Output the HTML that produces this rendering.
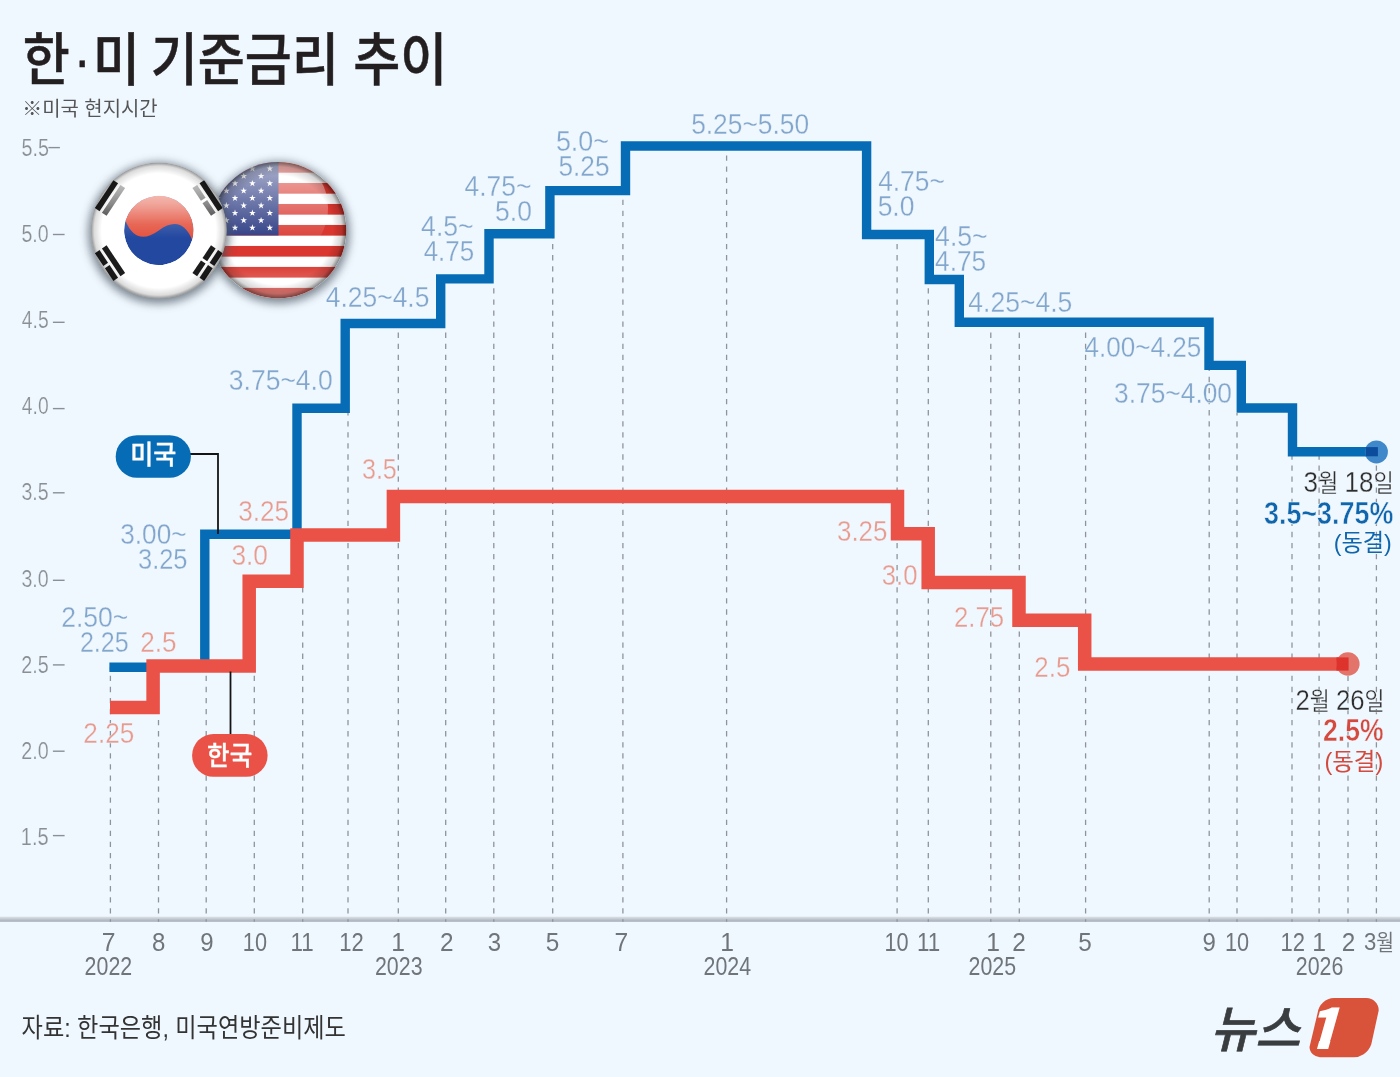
<!DOCTYPE html>
<html lang="ko"><head><meta charset="utf-8"><title>한·미 기준금리 추이</title>
<style>
html,body{margin:0;padding:0;background:#f0f8ff;}
body{width:1400px;height:1077px;overflow:hidden;}
svg{display:block;font-family:"Liberation Sans","Noto Sans CJK KR",sans-serif;}
.lb,.lr{stroke:#f0f8ff;stroke-width:.3px;}
.yl{stroke:#f0f8ff;stroke-width:.2px;}
.dt{stroke:#f0f8ff;stroke-width:.3px;}
.bb{stroke:#f0f8ff;stroke-width:.5px;}
.tt{stroke:#231f20;stroke-width:.5px;}
.cw{stroke:#fff;stroke-width:.3px;}
</style></head><body>
<svg width="1400" height="1077" viewBox="0 0 1400 1077">
<defs>
<linearGradient id="axg" x1="0" y1="0" x2="0" y2="1"><stop offset="0" stop-color="#dfe5ea"/><stop offset=".55" stop-color="#bcc3cb"/><stop offset="1" stop-color="#a7aeb8"/></linearGradient>
<filter id="blur4" x="-30%" y="-30%" width="160%" height="160%"><feGaussianBlur stdDeviation="4.6"/></filter>
<clipPath id="kclip"><circle cx="158.8" cy="230.6" r="68"/></clipPath>
<clipPath id="uclip"><circle cx="278.2" cy="230.2" r="68.2"/></clipPath>
<clipPath id="tclip"><circle cx="0" cy="0" r="34.7"/></clipPath>
<radialGradient id="rim" cx=".5" cy=".5" r=".5"><stop offset="0" stop-color="#000" stop-opacity="0"/><stop offset=".8" stop-color="#000" stop-opacity="0"/><stop offset=".93" stop-color="#000" stop-opacity=".16"/><stop offset="1" stop-color="#000" stop-opacity=".5"/></radialGradient>
<linearGradient id="ugl" gradientUnits="userSpaceOnUse" x1="0" y1="152" x2="0" y2="246"><stop offset="0" stop-color="#fff" stop-opacity=".7"/><stop offset=".6" stop-color="#fff" stop-opacity=".28"/><stop offset="1" stop-color="#fff" stop-opacity="0"/></linearGradient>
<linearGradient id="ubot" gradientUnits="userSpaceOnUse" x1="0" y1="262" x2="0" y2="299"><stop offset="0" stop-color="#fff" stop-opacity="0"/><stop offset="1" stop-color="#fff" stop-opacity=".4"/></linearGradient>
<linearGradient id="kgl" gradientUnits="userSpaceOnUse" x1="0" y1="170" x2="0" y2="238"><stop offset="0" stop-color="#fff" stop-opacity=".88"/><stop offset=".5" stop-color="#fff" stop-opacity=".48"/><stop offset=".8" stop-color="#fff" stop-opacity=".12"/><stop offset="1" stop-color="#fff" stop-opacity="0"/></linearGradient>
<radialGradient id="rimk" cx=".5" cy=".5" r=".5"><stop offset="0" stop-color="#000" stop-opacity="0"/><stop offset=".84" stop-color="#000" stop-opacity="0"/><stop offset=".95" stop-color="#000" stop-opacity=".14"/><stop offset="1" stop-color="#000" stop-opacity=".42"/></radialGradient>
</defs>
<rect width="1400" height="1077" fill="#f0f8ff"/>

<!-- axis -->
<rect x="0" y="916.6" width="1400" height="5.2" fill="url(#axg)"/>
<g stroke="#8e949a" stroke-width="1.3" stroke-dasharray="5.3 5.77" stroke-dashoffset="2.8" fill="none"><path d="M110.4 921.8V667"/><path d="M158.5 921.8V716"/><path d="M206.2 921.8V668"/><path d="M254.3 921.8V672"/><path d="M302.7 921.8V588"/><path d="M348 921.8V412"/><path d="M398.3 921.8V328"/><path d="M445.7 921.8V328"/><path d="M493.8 921.8V283"/><path d="M552.7 921.8V238"/><path d="M622.9 921.8V195"/><path d="M726.6 921.8V150"/><path d="M897.1 921.8V239"/><path d="M928.3 921.8V284"/><path d="M990.8 921.8V326"/><path d="M1019.3 921.8V326"/><path d="M1085.6 921.8V326"/><path d="M1209.2 921.8V370"/><path d="M1237 921.8V413"/><path d="M1292 921.8V456"/><path d="M1319.1 921.8V456"/><path d="M1348 921.8V676"/><path d="M1376.4 921.8V463"/></g>
<g stroke="#8a9096" stroke-width="1.4" fill="none"><path d="M48.4 147.6H59.9"/><path d="M52.9 234.5H64.6"/><path d="M52.9 322.3H64.6"/><path d="M52.9 408.6H64.6"/><path d="M52.9 492.8H64.6"/><path d="M52.9 580.3H64.6"/><path d="M52.9 664.9H64.6"/><path d="M52.9 751.2H64.6"/><path d="M52.9 835.6H64.6"/></g>

<!-- flags -->
<g>
<circle cx="278.7" cy="232.7" r="70.7" fill="#46525e" opacity=".7" filter="url(#blur4)"/>
<g clip-path="url(#uclip)">
<rect x="210" y="162" width="136.4" height="136.4" fill="#fff"/>
<rect x="210" y="162" width="136.4" height="10.69" fill="#d9372f"/><rect x="210" y="182.98" width="136.4" height="10.69" fill="#d9372f"/><rect x="210" y="203.97" width="136.4" height="10.69" fill="#d9372f"/><rect x="210" y="224.95" width="136.4" height="10.69" fill="#d9372f"/><rect x="210" y="245.94" width="136.4" height="10.69" fill="#d9372f"/><rect x="210" y="266.92" width="136.4" height="10.69" fill="#d9372f"/><rect x="210" y="287.91" width="136.4" height="10.69" fill="#d9372f"/>
<rect x="210" y="162" width="68.5" height="73.45" fill="#26357f"/>
<g fill="#fff"><polygon points="269.8,224.3 270.6,226.7 273.1,226.7 271.1,228.2 271.9,230.6 269.8,229.2 267.7,230.6 268.5,228.2 266.5,226.7 269.0,226.7"/><polygon points="252.4,224.3 253.2,226.7 255.7,226.7 253.7,228.2 254.5,230.6 252.4,229.2 250.3,230.6 251.1,228.2 249.1,226.7 251.6,226.7"/><polygon points="235.0,224.3 235.8,226.7 238.3,226.7 236.3,228.2 237.1,230.6 235.0,229.2 232.9,230.6 233.7,228.2 231.7,226.7 234.2,226.7"/><polygon points="217.6,224.3 218.4,226.7 220.9,226.7 218.9,228.2 219.7,230.6 217.6,229.2 215.5,230.6 216.3,228.2 214.3,226.7 216.8,226.7"/><polygon points="200.2,224.3 201.0,226.7 203.5,226.7 201.5,228.2 202.3,230.6 200.2,229.2 198.1,230.6 198.9,228.2 196.9,226.7 199.4,226.7"/><polygon points="182.8,224.3 183.6,226.7 186.1,226.7 184.1,228.2 184.9,230.6 182.8,229.2 180.7,230.6 181.5,228.2 179.5,226.7 182.0,226.7"/><polygon points="261.1,216.9 261.9,219.3 264.4,219.3 262.4,220.8 263.2,223.2 261.1,221.8 259.0,223.2 259.8,220.8 257.8,219.3 260.3,219.3"/><polygon points="243.7,216.9 244.5,219.3 247.0,219.3 245.0,220.8 245.8,223.2 243.7,221.8 241.6,223.2 242.4,220.8 240.4,219.3 242.9,219.3"/><polygon points="226.3,216.9 227.1,219.3 229.6,219.3 227.6,220.8 228.4,223.2 226.3,221.8 224.2,223.2 225.0,220.8 223.0,219.3 225.5,219.3"/><polygon points="208.9,216.9 209.7,219.3 212.2,219.3 210.2,220.8 211.0,223.2 208.9,221.8 206.8,223.2 207.6,220.8 205.6,219.3 208.1,219.3"/><polygon points="191.5,216.9 192.3,219.3 194.8,219.3 192.8,220.8 193.6,223.2 191.5,221.8 189.4,223.2 190.2,220.8 188.2,219.3 190.7,219.3"/><polygon points="269.8,209.5 270.6,211.9 273.1,211.9 271.1,213.4 271.9,215.8 269.8,214.4 267.7,215.8 268.5,213.4 266.5,211.9 269.0,211.9"/><polygon points="252.4,209.5 253.2,211.9 255.7,211.9 253.7,213.4 254.5,215.8 252.4,214.4 250.3,215.8 251.1,213.4 249.1,211.9 251.6,211.9"/><polygon points="235.0,209.5 235.8,211.9 238.3,211.9 236.3,213.4 237.1,215.8 235.0,214.4 232.9,215.8 233.7,213.4 231.7,211.9 234.2,211.9"/><polygon points="217.6,209.5 218.4,211.9 220.9,211.9 218.9,213.4 219.7,215.8 217.6,214.4 215.5,215.8 216.3,213.4 214.3,211.9 216.8,211.9"/><polygon points="200.2,209.5 201.0,211.9 203.5,211.9 201.5,213.4 202.3,215.8 200.2,214.4 198.1,215.8 198.9,213.4 196.9,211.9 199.4,211.9"/><polygon points="182.8,209.5 183.6,211.9 186.1,211.9 184.1,213.4 184.9,215.8 182.8,214.4 180.7,215.8 181.5,213.4 179.5,211.9 182.0,211.9"/><polygon points="261.1,202.1 261.9,204.5 264.4,204.5 262.4,206.0 263.2,208.4 261.1,207.0 259.0,208.4 259.8,206.0 257.8,204.5 260.3,204.5"/><polygon points="243.7,202.1 244.5,204.5 247.0,204.5 245.0,206.0 245.8,208.4 243.7,207.0 241.6,208.4 242.4,206.0 240.4,204.5 242.9,204.5"/><polygon points="226.3,202.1 227.1,204.5 229.6,204.5 227.6,206.0 228.4,208.4 226.3,207.0 224.2,208.4 225.0,206.0 223.0,204.5 225.5,204.5"/><polygon points="208.9,202.1 209.7,204.5 212.2,204.5 210.2,206.0 211.0,208.4 208.9,207.0 206.8,208.4 207.6,206.0 205.6,204.5 208.1,204.5"/><polygon points="191.5,202.1 192.3,204.5 194.8,204.5 192.8,206.0 193.6,208.4 191.5,207.0 189.4,208.4 190.2,206.0 188.2,204.5 190.7,204.5"/><polygon points="269.8,194.7 270.6,197.1 273.1,197.1 271.1,198.6 271.9,201.0 269.8,199.6 267.7,201.0 268.5,198.6 266.5,197.1 269.0,197.1"/><polygon points="252.4,194.7 253.2,197.1 255.7,197.1 253.7,198.6 254.5,201.0 252.4,199.6 250.3,201.0 251.1,198.6 249.1,197.1 251.6,197.1"/><polygon points="235.0,194.7 235.8,197.1 238.3,197.1 236.3,198.6 237.1,201.0 235.0,199.6 232.9,201.0 233.7,198.6 231.7,197.1 234.2,197.1"/><polygon points="217.6,194.7 218.4,197.1 220.9,197.1 218.9,198.6 219.7,201.0 217.6,199.6 215.5,201.0 216.3,198.6 214.3,197.1 216.8,197.1"/><polygon points="200.2,194.7 201.0,197.1 203.5,197.1 201.5,198.6 202.3,201.0 200.2,199.6 198.1,201.0 198.9,198.6 196.9,197.1 199.4,197.1"/><polygon points="182.8,194.7 183.6,197.1 186.1,197.1 184.1,198.6 184.9,201.0 182.8,199.6 180.7,201.0 181.5,198.6 179.5,197.1 182.0,197.1"/><polygon points="261.1,187.3 261.9,189.7 264.4,189.7 262.4,191.2 263.2,193.6 261.1,192.2 259.0,193.6 259.8,191.2 257.8,189.7 260.3,189.7"/><polygon points="243.7,187.3 244.5,189.7 247.0,189.7 245.0,191.2 245.8,193.6 243.7,192.2 241.6,193.6 242.4,191.2 240.4,189.7 242.9,189.7"/><polygon points="226.3,187.3 227.1,189.7 229.6,189.7 227.6,191.2 228.4,193.6 226.3,192.2 224.2,193.6 225.0,191.2 223.0,189.7 225.5,189.7"/><polygon points="208.9,187.3 209.7,189.7 212.2,189.7 210.2,191.2 211.0,193.6 208.9,192.2 206.8,193.6 207.6,191.2 205.6,189.7 208.1,189.7"/><polygon points="191.5,187.3 192.3,189.7 194.8,189.7 192.8,191.2 193.6,193.6 191.5,192.2 189.4,193.6 190.2,191.2 188.2,189.7 190.7,189.7"/><polygon points="269.8,179.9 270.6,182.3 273.1,182.3 271.1,183.8 271.9,186.2 269.8,184.8 267.7,186.2 268.5,183.8 266.5,182.3 269.0,182.3"/><polygon points="252.4,179.9 253.2,182.3 255.7,182.3 253.7,183.8 254.5,186.2 252.4,184.8 250.3,186.2 251.1,183.8 249.1,182.3 251.6,182.3"/><polygon points="235.0,179.9 235.8,182.3 238.3,182.3 236.3,183.8 237.1,186.2 235.0,184.8 232.9,186.2 233.7,183.8 231.7,182.3 234.2,182.3"/><polygon points="217.6,179.9 218.4,182.3 220.9,182.3 218.9,183.8 219.7,186.2 217.6,184.8 215.5,186.2 216.3,183.8 214.3,182.3 216.8,182.3"/><polygon points="200.2,179.9 201.0,182.3 203.5,182.3 201.5,183.8 202.3,186.2 200.2,184.8 198.1,186.2 198.9,183.8 196.9,182.3 199.4,182.3"/><polygon points="182.8,179.9 183.6,182.3 186.1,182.3 184.1,183.8 184.9,186.2 182.8,184.8 180.7,186.2 181.5,183.8 179.5,182.3 182.0,182.3"/><polygon points="261.1,172.5 261.9,174.9 264.4,174.9 262.4,176.4 263.2,178.8 261.1,177.4 259.0,178.8 259.8,176.4 257.8,174.9 260.3,174.9"/><polygon points="243.7,172.5 244.5,174.9 247.0,174.9 245.0,176.4 245.8,178.8 243.7,177.4 241.6,178.8 242.4,176.4 240.4,174.9 242.9,174.9"/><polygon points="226.3,172.5 227.1,174.9 229.6,174.9 227.6,176.4 228.4,178.8 226.3,177.4 224.2,178.8 225.0,176.4 223.0,174.9 225.5,174.9"/><polygon points="208.9,172.5 209.7,174.9 212.2,174.9 210.2,176.4 211.0,178.8 208.9,177.4 206.8,178.8 207.6,176.4 205.6,174.9 208.1,174.9"/><polygon points="191.5,172.5 192.3,174.9 194.8,174.9 192.8,176.4 193.6,178.8 191.5,177.4 189.4,178.8 190.2,176.4 188.2,174.9 190.7,174.9"/><polygon points="269.8,165.1 270.6,167.5 273.1,167.5 271.1,169.0 271.9,171.4 269.8,170.0 267.7,171.4 268.5,169.0 266.5,167.5 269.0,167.5"/><polygon points="252.4,165.1 253.2,167.5 255.7,167.5 253.7,169.0 254.5,171.4 252.4,170.0 250.3,171.4 251.1,169.0 249.1,167.5 251.6,167.5"/><polygon points="235.0,165.1 235.8,167.5 238.3,167.5 236.3,169.0 237.1,171.4 235.0,170.0 232.9,171.4 233.7,169.0 231.7,167.5 234.2,167.5"/><polygon points="217.6,165.1 218.4,167.5 220.9,167.5 218.9,169.0 219.7,171.4 217.6,170.0 215.5,171.4 216.3,169.0 214.3,167.5 216.8,167.5"/><polygon points="200.2,165.1 201.0,167.5 203.5,167.5 201.5,169.0 202.3,171.4 200.2,170.0 198.1,171.4 198.9,169.0 196.9,167.5 199.4,167.5"/><polygon points="182.8,165.1 183.6,167.5 186.1,167.5 184.1,169.0 184.9,171.4 182.8,170.0 180.7,171.4 181.5,169.0 179.5,167.5 182.0,167.5"/></g>
<circle cx="272" cy="208" r="56" fill="url(#ugl)"/>
<rect x="210" y="262" width="136.4" height="40" fill="url(#ubot)"/>
<circle cx="278.2" cy="230.2" r="68.2" fill="url(#rim)"/>
</g>
<circle cx="158.8" cy="233.1" r="70.5" fill="#46525e" opacity=".7" filter="url(#blur4)"/>
<g clip-path="url(#kclip)">
<circle cx="158.8" cy="230.6" r="68" fill="#fff"/>
<g transform="translate(158.8 230.6)" fill="#1c1c1c"><g transform="rotate(213.7)"><rect x="51.6" y="-16.7" width="5.6" height="33.4"/><rect x="60.1" y="-16.7" width="5.6" height="33.4"/><rect x="68.6" y="-16.7" width="5.6" height="33.4"/></g><g transform="rotate(-33.7)"><rect x="51.6" y="-16.7" width="5.6" height="15.3"/><rect x="51.6" y="1.4" width="5.6" height="15.3"/><rect x="60.1" y="-16.7" width="5.6" height="33.4"/><rect x="68.6" y="-16.7" width="5.6" height="15.3"/><rect x="68.6" y="1.4" width="5.6" height="15.3"/></g><g transform="rotate(146.3)"><rect x="51.6" y="-16.7" width="5.6" height="33.4"/><rect x="60.1" y="-16.7" width="5.6" height="15.3"/><rect x="60.1" y="1.4" width="5.6" height="15.3"/><rect x="68.6" y="-16.7" width="5.6" height="33.4"/></g><g transform="rotate(33.7)"><rect x="51.6" y="-16.7" width="5.6" height="15.3"/><rect x="51.6" y="1.4" width="5.6" height="15.3"/><rect x="60.1" y="-16.7" width="5.6" height="15.3"/><rect x="60.1" y="1.4" width="5.6" height="15.3"/><rect x="68.6" y="-16.7" width="5.6" height="15.3"/><rect x="68.6" y="1.4" width="5.6" height="15.3"/></g></g>
<g transform="translate(158.8 230.4) rotate(16)">
<g clip-path="url(#tclip)">
<circle r="34.7" fill="#2348a0"/>
<path d="M-34.7 0A34.7 34.7 0 0 1 34.7 0Q17.35 -22 0 0T-34.7 0Z" fill="#e4533f"/>
</g></g>
<circle cx="158.8" cy="230.6" r="60" fill="url(#kgl)"/>
<circle cx="158.8" cy="230.6" r="68" fill="url(#rimk)"/>
</g>
</g>

<!-- data lines -->
<path d="M109.4 667.3H204.8V534.2H297V408.2H345.2V323.5H440.7V278.9H489V233.7H549.9V190.6H625.5V146H866.6V234.5H929.3V279.5H959.3V322.2H1209V365.4H1241.3V408H1292.5V451.7H1377.9" fill="none" stroke="#066cb6" stroke-width="9.4" stroke-linejoin="miter"/>
<path d="M110 707.4H153.1V666H249.2V581.2H297V535H393.4V496.4H897.5V533.7H928.2V582.5H1019V620.2H1084.7V664H1348.6" fill="none" stroke="#ea5247" stroke-width="13.5" stroke-linejoin="miter"/>
<circle cx="1376.4" cy="451.9" r="11.5" fill="#3f88c9"/>
<rect x="1365.6" y="447.1" width="12.3" height="9.2" fill="#0c4c9d"/>
<circle cx="1347.9" cy="664" r="11.7" fill="#e2746c"/>
<rect x="1336.4" y="657.4" width="12.2" height="13.2" fill="#de332c"/>

<!-- callouts -->
<path d="M190 454H218V534" fill="none" stroke="#141414" stroke-width="1.8"/>
<path d="M230.5 671.5V736" fill="none" stroke="#141414" stroke-width="1.8"/>
<rect x="115.7" y="435.2" width="75.2" height="42.6" rx="21.3" fill="#066cb6"/>
<rect x="192.1" y="734.1" width="75.5" height="42.7" rx="21.3" fill="#ea5247"/>

<!-- logo -->
<g id="logo">
<path d="M1334 998.1H1366.5A12.2 12.2 0 0 1 1378.7 1010.4L1371.3 1044.3A19 19 0 0 1 1351.6 1057.2H1320.4A10.5 10.5 0 0 1 1309.5 1047L1317.6 1013.1A17 17 0 0 1 1334 998.1Z" fill="#d9533a"/>
<text transform="translate(1210.2 1047.4) skewX(-14) scale(0.985 1)" font-size="49.7" font-weight="500" fill="#3a3d3f" stroke="#3a3d3f" stroke-width=".7">뉴스</text>
<clipPath id="oneclip"><path d="M0 -45H30V-9.6H23.2V1H12.6V-9.6H0Z"/></clipPath>
<text transform="translate(1303.6 1049) skewX(-15.6) scale(1.06 1)" clip-path="url(#oneclip)" font-size="55.8" font-weight="900" fill="#fff" font-family="&quot;Noto Sans CJK KR&quot;,&quot;Liberation Sans&quot;,sans-serif">1</text>
</g>

<!-- texts -->
<text transform="translate(61.17 627.35) scale(0.887 1)" font-size="29.93" fill="#82a6cc" class="lb">2.50~</text>
<text transform="translate(79.95 652) scale(0.837 1)" font-size="29.93" fill="#82a6cc" class="lb">2.25</text>
<text transform="translate(120.3 544.05) scale(0.874 1)" font-size="29.93" fill="#82a6cc" class="lb">3.00~</text>
<text transform="translate(137.98 569.2) scale(0.851 1)" font-size="29.93" fill="#82a6cc" class="lb">3.25</text>
<text transform="translate(228.79 390.2) scale(0.886 1)" font-size="29.93" fill="#82a6cc" class="lb">3.75~4.0</text>
<text transform="translate(325.82 306.7) scale(0.883 1)" font-size="29.93" fill="#82a6cc" class="lb">4.25~4.5</text>
<text transform="translate(421.12 235.7) scale(0.877 1)" font-size="30.36" fill="#82a6cc" class="lb">4.5~</text>
<text transform="translate(423.63 260.7) scale(0.856 1)" font-size="30.36" fill="#82a6cc" class="lb">4.75</text>
<text transform="translate(464.47 196.35) scale(0.871 1)" font-size="30.36" fill="#82a6cc" class="lb">4.75~</text>
<text transform="translate(495.09 221.35) scale(0.884 1)" font-size="29.93" fill="#82a6cc" class="lb">5.0</text>
<text transform="translate(555.92 151.35) scale(0.899 1)" font-size="29.93" fill="#82a6cc" class="lb">5.0~</text>
<text transform="translate(558.45 176.35) scale(0.877 1)" font-size="29.93" fill="#82a6cc" class="lb">5.25</text>
<text transform="translate(691.15 134.05) scale(0.880 1)" font-size="29.93" fill="#82a6cc" class="lb">5.25~5.50</text>
<text transform="translate(878.17 191.35) scale(0.867 1)" font-size="30.36" fill="#82a6cc" class="lb">4.75~</text>
<text transform="translate(877.64 216.35) scale(0.884 1)" font-size="29.93" fill="#82a6cc" class="lb">5.0</text>
<text transform="translate(935.12 246.35) scale(0.877 1)" font-size="30.36" fill="#82a6cc" class="lb">4.5~</text>
<text transform="translate(935.12 271.05) scale(0.865 1)" font-size="30.36" fill="#82a6cc" class="lb">4.75</text>
<text transform="translate(968.32 312.15) scale(0.887 1)" font-size="29.93" fill="#82a6cc" class="lb">4.25~4.5</text>
<text transform="translate(1084.48 356.5) scale(0.873 1)" font-size="29.93" fill="#82a6cc" class="lb">4.00~4.25</text>
<text transform="translate(1114.1 403.05) scale(0.880 1)" font-size="29.93" fill="#82a6cc" class="lb">3.75~4.00</text>
<text transform="translate(83.34 743.05) scale(0.874 1)" font-size="29.93" fill="#e89b8f" class="lr">2.25</text>
<text transform="translate(140.19 652) scale(0.872 1)" font-size="29.93" fill="#e89b8f" class="lr">2.5</text>
<text transform="translate(231.45 564.55) scale(0.879 1)" font-size="29.93" fill="#e89b8f" class="lr">3.0</text>
<text transform="translate(238.25 520.55) scale(0.873 1)" font-size="29.93" fill="#e89b8f" class="lr">3.25</text>
<text transform="translate(361.94 479) scale(0.839 1)" font-size="29.93" fill="#e89b8f" class="lr">3.5</text>
<text transform="translate(836.96 540.5) scale(0.868 1)" font-size="29.93" fill="#e89b8f" class="lr">3.25</text>
<text transform="translate(881.77 585) scale(0.859 1)" font-size="29.93" fill="#e89b8f" class="lr">3.0</text>
<text transform="translate(954.06 626.5) scale(0.860 1)" font-size="29.93" fill="#e89b8f" class="lr">2.75</text>
<text transform="translate(1034.35 677.35) scale(0.866 1)" font-size="29.93" fill="#e89b8f" class="lr">2.5</text>
<text transform="translate(1303.55 492.45) scale(0.885 1)" font-size="24.95" fill="#2d2d2d" class="dt"><tspan font-size="1.18em">3</tspan>월 <tspan font-size="1.18em">18</tspan>일</text>
<text transform="translate(1263.96 523.64) scale(0.878 1)" font-size="30.64" fill="#0f66ad" font-weight="700" class="bb">3.5~3.75%</text>
<text transform="translate(1333.66 551.17) scale(0.990 1)" font-size="23.46" fill="#0f66ad">(동결)</text>
<text transform="translate(1295.54 709.58) scale(0.860 1)" font-size="25.33" fill="#2d2d2d" class="dt"><tspan font-size="1.18em">2</tspan>월 <tspan font-size="1.18em">26</tspan>일</text>
<text transform="translate(1323.05 741.04) scale(0.854 1)" font-size="31.13" fill="#d44a3e" font-weight="700" class="bb">2.5%</text>
<text transform="translate(1324.44 769.72) scale(1.000 1)" font-size="23.47" fill="#d44a3e">(동결)</text>
<text transform="translate(130.29 464.16) scale(0.964 1)" font-size="26.03" fill="#fff" font-weight="500" class="cw">미국</text>
<text transform="translate(207.12 764.74) scale(0.951 1)" font-size="25.77" fill="#fff" font-weight="500" class="cw">한국</text>
<text transform="translate(22.69 79.93) scale(0.899 1)" font-size="56.9" fill="#231f20" font-weight="500" class="tt">한<tspan dx="4.5">·</tspan><tspan dx="2.5">미</tspan><tspan dx="-4"> </tspan>기준금리 추이</text>
<text transform="translate(22.21 116.4) scale(0.994 1)" font-size="20.06" fill="#555">※미국 현지시간</text>
<text transform="translate(21.57 1036.83) scale(0.882 1)" font-size="26.3" fill="#333">자료: 한국은행, 미국연방준비제도</text>
<text transform="translate(21.41 156.07) scale(0.846 1)" font-size="23.36" fill="#8a8f94" class="yl">5.5</text>
<text transform="translate(21.41 242.17) scale(0.850 1)" font-size="23.03" fill="#8a8f94" class="yl">5.0</text>
<text transform="translate(21.81 328.27) scale(0.826 1)" font-size="23.36" fill="#8a8f94" class="yl">4.5</text>
<text transform="translate(21.81 414.37) scale(0.838 1)" font-size="23.03" fill="#8a8f94" class="yl">4.0</text>
<text transform="translate(21.42 500.47) scale(0.850 1)" font-size="23.03" fill="#8a8f94" class="yl">3.5</text>
<text transform="translate(21.42 586.82) scale(0.850 1)" font-size="23.03" fill="#8a8f94" class="yl">3.0</text>
<text transform="translate(21.21 672.92) scale(0.857 1)" font-size="23.03" fill="#8a8f94" class="yl">2.5</text>
<text transform="translate(21.21 759.02) scale(0.857 1)" font-size="23.03" fill="#8a8f94" class="yl">2.0</text>
<text transform="translate(20.85 845.12) scale(0.856 1)" font-size="23.36" fill="#8a8f94" class="yl">1.5</text>
<text transform="translate(101.73 950.81) scale(0.950 1)" font-size="26.03" fill="#70757a" class="xl">7</text>
<text transform="translate(151.94 950.55) scale(0.950 1)" font-size="25.28" fill="#70757a" class="xl">8</text>
<text transform="translate(200.23 950.55) scale(0.950 1)" font-size="25.28" fill="#70757a" class="xl">9</text>
<text transform="translate(242.82 950.55) scale(0.860 1)" font-size="25.28" fill="#70757a" class="xl">10</text>
<text transform="translate(290.53 950.8) scale(0.860 1)" font-size="26.02" fill="#70757a" class="xl">11</text>
<text transform="translate(339.25 950.8) scale(0.860 1)" font-size="25.64" fill="#70757a" class="xl">12</text>
<text transform="translate(391.34 950.8) scale(0.950 1)" font-size="26.02" fill="#70757a" class="xl">1</text>
<text transform="translate(440 950.8) scale(0.950 1)" font-size="25.64" fill="#70757a" class="xl">2</text>
<text transform="translate(487.72 950.55) scale(0.950 1)" font-size="25.28" fill="#70757a" class="xl">3</text>
<text transform="translate(545.67 950.54) scale(0.950 1)" font-size="25.64" fill="#70757a" class="xl">5</text>
<text transform="translate(614.38 950.81) scale(0.950 1)" font-size="26.03" fill="#70757a" class="xl">7</text>
<text transform="translate(720.34 950.8) scale(0.950 1)" font-size="26.02" fill="#70757a" class="xl">1</text>
<text transform="translate(884.5 950.55) scale(0.860 1)" font-size="25.28" fill="#70757a" class="xl">10</text>
<text transform="translate(917.03 950.8) scale(0.860 1)" font-size="26.02" fill="#70757a" class="xl">11</text>
<text transform="translate(986.34 950.8) scale(0.950 1)" font-size="26.02" fill="#70757a" class="xl">1</text>
<text transform="translate(1012.18 950.8) scale(0.950 1)" font-size="25.64" fill="#70757a" class="xl">2</text>
<text transform="translate(1078.17 950.54) scale(0.950 1)" font-size="25.64" fill="#70757a" class="xl">5</text>
<text transform="translate(1202.43 950.55) scale(0.950 1)" font-size="25.28" fill="#70757a" class="xl">9</text>
<text transform="translate(1225 950.55) scale(0.860 1)" font-size="25.28" fill="#70757a" class="xl">10</text>
<text transform="translate(1280.41 950.8) scale(0.860 1)" font-size="25.64" fill="#70757a" class="xl">12</text>
<text transform="translate(1312.16 950.8) scale(0.950 1)" font-size="26.02" fill="#70757a" class="xl">1</text>
<text transform="translate(1341.83 950.8) scale(0.950 1)" font-size="25.64" fill="#70757a" class="xl">2</text>
<text transform="translate(1364.04 949.84) scale(0.891 1)" font-size="21.61" fill="#70757a"><tspan font-size="1.15em">3</tspan>월</text>
<text transform="translate(84.62 974.75) scale(0.860 1)" font-size="24.86" fill="#70757a" class="xl">2022</text>
<text transform="translate(374.99 974.75) scale(0.860 1)" font-size="24.86" fill="#70757a" class="xl">2023</text>
<text transform="translate(703.55 974.75) scale(0.860 1)" font-size="24.86" fill="#70757a" class="xl">2024</text>
<text transform="translate(968.54 974.75) scale(0.860 1)" font-size="24.86" fill="#70757a" class="xl">2025</text>
<text transform="translate(1295.81 974.75) scale(0.860 1)" font-size="24.86" fill="#70757a" class="xl">2026</text>
</svg>
</body></html>
